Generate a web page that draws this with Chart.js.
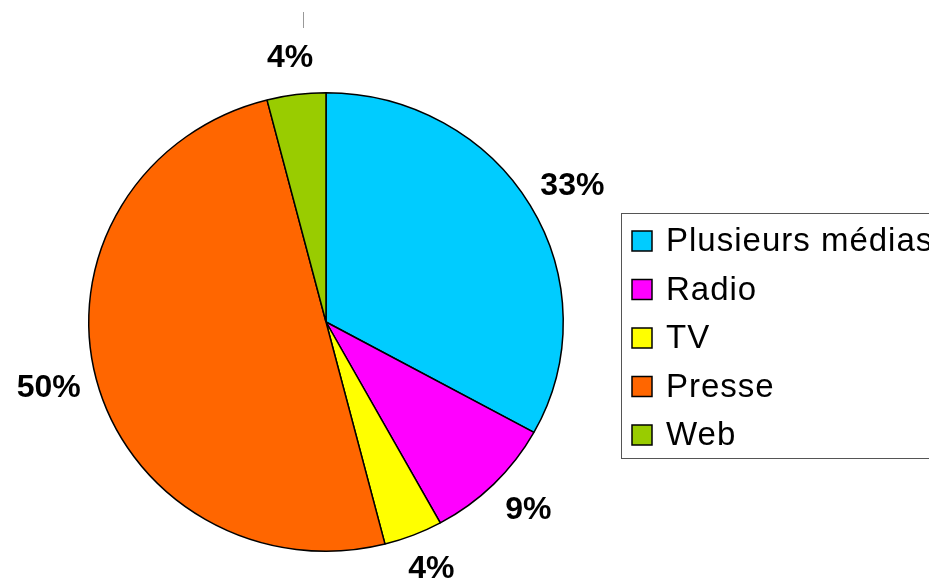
<!DOCTYPE html>
<html>
<head>
<meta charset="utf-8">
<script src="https://cdn.jsdelivr.net/npm/chart.js@4"></script>
<style>
  html, body { margin: 0; padding: 0; background: #fff; }
  .chart-box { width: 929px; height: 585px; }
</style>
</head>
<body>
<div class="chart-box"><canvas id="myChart"></canvas></div>
<script>
// media share
const categories = ['Plusieurs médias', 'Radio', 'TV', 'Presse', 'Web'];
const shares = [33, 9, 4, 50, 4];
const sliceColors = ['#00ccff', '#ff00ff', '#ffff00', '#ff6600', '#99cc00'];

// pie is squashed a little vertically
const squash = 230 / 238;

const ellipsePie = {
    id: 'ellipsePie',
    beforeDatasetsDraw(chart) {
        const arc = chart.getDatasetMeta(0).data[0];
        const ctx = chart.ctx;
        ctx.save();
        ctx.translate(arc.x, arc.y);
        ctx.scale(1, squash);
        ctx.translate(-arc.x, -arc.y);
    },
    afterDatasetsDraw(chart) {
        chart.ctx.restore();
    }
};

// percentage labels outside the slices
const pctLabels = {
    id: 'pctLabels',
    afterDraw(chart) {
        const ctx = chart.ctx;
        const arcs = chart.getDatasetMeta(0).data;
        const values = chart.data.datasets[0].data;
        const total = values.reduce((a, b) => a + b, 0);
        ctx.save();
        ctx.font = 'bold 32px "Liberation Sans", Arial, sans-serif';
        ctx.fillStyle = '#000';
        ctx.textAlign = 'center';
        ctx.textBaseline = 'middle';
        arcs.forEach((arc, i) => {
            const mid = (arc.startAngle + arc.endAngle) / 2;
            const rx = arc.outerRadius + 49;
            const ry = arc.outerRadius * squash + 37;
            const x = arc.x + Math.cos(mid) * rx;
            const y = arc.y + Math.sin(mid) * ry;
            ctx.fillText(Math.round(values[i] / total * 100) + '%', x, y);
        });

        // little tick at the top
        ctx.strokeStyle = '#999';
        ctx.lineWidth = 1;
        ctx.beginPath();
        ctx.moveTo(303.5, 12);
        ctx.lineTo(303.5, 28);
        ctx.stroke();
        ctx.restore();
    }
};

// boxed legend on the right
const boxLegend = {
    id: 'boxLegend',
    afterDraw(chart) {
        const ctx = chart.ctx;
        const left = 621.5, top = 213.5, bottom = 458.5;
        ctx.save();
        ctx.strokeStyle = '#555';
        ctx.lineWidth = 1;
        ctx.strokeRect(left, top, 400, bottom - top);
        ctx.font = '33px "Liberation Sans", Arial, sans-serif';
        ctx.letterSpacing = '1px';
        ctx.textAlign = 'left';
        ctx.textBaseline = 'middle';
        chart.data.labels.forEach((label, i) => {
            const cy = 241 + i * 48.5;
            ctx.fillStyle = sliceColors[i];
            ctx.fillRect(632, cy - 10, 20, 20);
            ctx.strokeStyle = '#000';
            ctx.lineWidth = 1.5;
            ctx.strokeRect(632, cy - 10, 20, 20);
            ctx.fillStyle = '#000';
            ctx.fillText(label, 666, cy + 1);
        });
        ctx.restore();
    }
};

const ctx = document.getElementById('myChart').getContext('2d');

const myChart = new Chart(ctx, {
    type: 'pie',
    data: {
        labels: categories,
        datasets: [{
            data: shares,
            backgroundColor: sliceColors,
            borderColor: '#000',
            borderWidth: 1.5
        }]
    },
    options: {
        responsive: true,
        maintainAspectRatio: false,
        animation: false,
        layout: {
            padding: { left: 87, right: 364, top: 84, bottom: 25 }
        },
        plugins: {
            legend: { display: false },
            tooltip: { enabled: false }
        }
    },
    plugins: [ellipsePie, pctLabels, boxLegend]
});
</script>
</body>
</html>
